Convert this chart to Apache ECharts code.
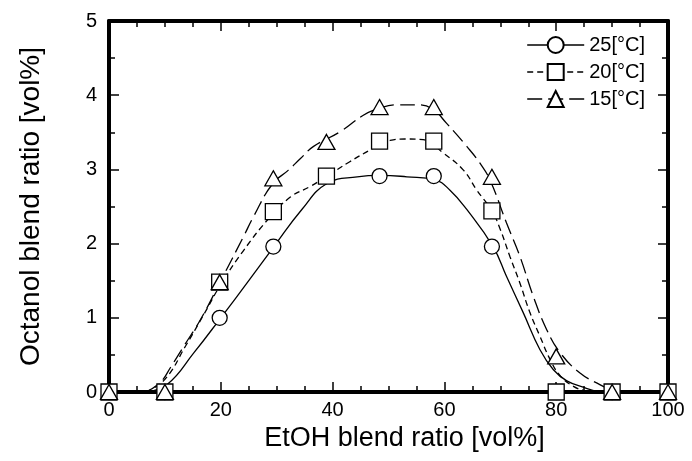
<!DOCTYPE html>
<html>
<head>
<meta charset="utf-8">
<script src="https://cdn.jsdelivr.net/npm/echarts@6/dist/echarts.min.js"></script>
<style>
html,body{margin:0;padding:0;background:#fff;}
#chart{width:692px;height:461px;}
</style>
</head>
<body>
<div id="chart"></div>
<script>
// ---- data ----
const xPoints = [0, 10, 19.8, 29.4, 38.9, 48.4, 58.1, 68.5, 80, 90, 100];
const y25 = [0, 0, 1.0, 1.96, 2.91, 2.91, 2.91, 1.96, 0, 0, 0];
const y20 = [0, 0, 1.48, 2.43, 2.91, 3.38, 3.38, 2.44, 0, 0, 0];
const y15 = [0, 0, 1.48, 2.88, 3.37, 3.84, 3.84, 2.9, 0.48, 0, 0];

// fitted curves
const fit25X = [6.6, 10.4, 15.2, 20, 25, 29.5, 34.5, 39, 44.4, 48.6, 53.3, 58.3, 61, 64, 68.7, 71.1, 74.1, 77.1, 79.5, 81.9, 85.4, 87.5];
const fit25Y = [0, 0.1, 0.53, 1.0, 1.5, 1.96, 2.46, 2.81, 2.9, 2.92, 2.9, 2.86, 2.72, 2.46, 1.96, 1.56, 1.07, 0.57, 0.3, 0.15, 0.05, 0];
const fit20X = [6.6, 10, 13.7, 17, 20, 24, 28.6, 32.5, 36, 39, 43, 46.7, 50.3, 53, 56.2, 59.8, 63.4, 65.8, 68.5, 70, 71.7, 73.5, 75.3, 77.1, 78.9, 80.7, 83, 85, 87];
const fit20Y = [0, 0.17, 0.62, 1.05, 1.45, 1.9, 2.34, 2.63, 2.77, 2.91, 3.1, 3.26, 3.39, 3.41, 3.4, 3.22, 2.99, 2.72, 2.44, 2.19, 1.83, 1.47, 1.07, 0.75, 0.44, 0.22, 0.08, 0.02, 0];
const fit15X = [6.6, 9.2, 11, 13.4, 16.4, 20, 24.1, 25.9, 29.2, 32.1, 34.3, 36.6, 41.4, 45.5, 48.2, 51.5, 55, 57.75, 60.4, 64, 66.4, 68.2, 71.1, 73.5, 75.9, 78.3, 80.7, 84.2, 87.8, 90.2, 91.5];
const fit15Y = [0, 0.13, 0.33, 0.62, 0.98, 1.5, 2.1, 2.37, 2.8, 2.99, 3.15, 3.31, 3.51, 3.73, 3.82, 3.87, 3.87, 3.82, 3.62, 3.31, 3.08, 2.85, 2.28, 1.83, 1.29, 0.84, 0.53, 0.26, 0.1, 0.02, 0];

const seriesNames = ['25[°C]', '20[°C]', '15[°C]'];
const xTicks = [0, 20, 40, 60, 80, 100];
const yTicks = [0, 1, 2, 3, 4, 5];
const xTitle = 'EtOH blend ratio [vol%]';
const yTitle = 'Octanol blend ratio [vol%]';

// ---- chart ----
const zip = (xs, ys) => xs.map((x, i) => [x, ys[i]]);
const FONT = 'Liberation Sans, Arial, Helvetica, sans-serif';
const dashShort = [6, 4];
const dashLong = [15, 6];

function axisCommon(extra) {
  return Object.assign({
    type: 'value',
    axisLine: { show: true, onZero: false, lineStyle: { color: '#000', width: 4 } },
    axisTick: { show: true, inside: true, length: 10, lineStyle: { color: '#000', width: 1.5 } },
    minorTick: { show: true, length: 6, lineStyle: { color: '#000', width: 1.5 } },
    splitLine: { show: false },
    minorSplitLine: { show: false }
  }, extra);
}

const chart = echarts.init(document.getElementById('chart'), null, { renderer: 'canvas' });

const markerStyle = { color: '#fff', borderColor: '#000', borderWidth: 1.3 };

chart.setOption({
  backgroundColor: '#fff',
  animation: false,
  textStyle: { fontFamily: FONT, color: '#000' },
  grid: { left: 109, right: 24, top: 21, bottom: 69, containLabel: false },
  legend: {
    orient: 'vertical',
    right: 42,
    top: 30,
    itemWidth: 57,
    itemHeight: 20,
    itemGap: 7,
    textStyle: { fontSize: 20, fontFamily: FONT, color: '#000', padding: [0, 0, 0, 0] },
    data: [
      { name: seriesNames[0], lineStyle: { color: '#000', width: 1.3, type: 'solid', opacity: 1 } },
      { name: seriesNames[1], lineStyle: { color: '#000', width: 1.3, type: dashShort, opacity: 1 } },
      { name: seriesNames[2], lineStyle: { color: '#000', width: 1.3, type: dashLong, opacity: 1 } }
    ]
  },
  xAxis: [
    axisCommon({
      position: 'bottom', min: xTicks[0], max: xTicks[xTicks.length - 1], interval: 20,
      minorTick: { show: true, splitNumber: 4, length: 6, lineStyle: { color: '#000', width: 1.5 } },
      axisLabel: { show: true, margin: 8, fontSize: 20, color: '#000', fontFamily: FONT },
      name: xTitle, nameLocation: 'middle', nameGap: 32,
      nameTextStyle: { fontSize: 27, color: '#000', fontFamily: FONT, padding: [0, 0, 0, 32] }
    }),
    axisCommon({
      position: 'top', min: xTicks[0], max: xTicks[xTicks.length - 1], interval: 20,
      minorTick: { show: true, splitNumber: 4, length: 6, lineStyle: { color: '#000', width: 1.5 } },
      axisLabel: { show: false }
    })
  ],
  yAxis: [
    axisCommon({
      position: 'left', min: yTicks[0], max: yTicks[yTicks.length - 1], interval: 1,
      minorTick: { show: true, splitNumber: 2, length: 6, lineStyle: { color: '#000', width: 1.5 } },
      axisLabel: { show: true, margin: 12, fontSize: 20, color: '#000', fontFamily: FONT },
      name: yTitle, nameLocation: 'middle', nameGap: 64,
      nameTextStyle: { fontSize: 28, color: '#000', fontFamily: FONT }
    }),
    axisCommon({
      position: 'right', min: yTicks[0], max: yTicks[yTicks.length - 1], interval: 1,
      minorTick: { show: true, splitNumber: 2, length: 6, lineStyle: { color: '#000', width: 1.5 } },
      axisLabel: { show: false }
    })
  ],
  series: [
    {
      type: 'line', name: 'fit25', data: zip(fit25X, fit25Y), smooth: 0.45, showSymbol: false,
      lineStyle: { color: '#000', width: 1.3, type: 'solid' }, z: 2, silent: true
    },
    {
      type: 'line', name: 'fit20', data: zip(fit20X, fit20Y), smooth: 0.45, showSymbol: false,
      lineStyle: { color: '#000', width: 1.3, type: dashShort }, z: 2, silent: true
    },
    {
      type: 'line', name: 'fit15', data: zip(fit15X, fit15Y), smooth: 0.45, showSymbol: false,
      lineStyle: { color: '#000', width: 1.3, type: dashLong }, z: 2, silent: true
    },
    {
      type: 'line', name: seriesNames[0], data: zip(xPoints, y25), symbol: 'circle', symbolSize: 15,
      showAllSymbol: true, itemStyle: markerStyle, lineStyle: { width: 0, opacity: 0 }, z: 3
    },
    {
      type: 'line', name: seriesNames[1], data: zip(xPoints, y20), symbol: 'rect', symbolSize: 16,
      showAllSymbol: true, itemStyle: markerStyle, lineStyle: { width: 0, opacity: 0 }, z: 4
    },
    {
      type: 'line', name: seriesNames[2], data: zip(xPoints, y15), symbol: 'triangle', symbolSize: [17, 15],
      showAllSymbol: true, itemStyle: markerStyle, lineStyle: { width: 0, opacity: 0 }, z: 5
    }
  ]
});
</script>
</body>
</html>
